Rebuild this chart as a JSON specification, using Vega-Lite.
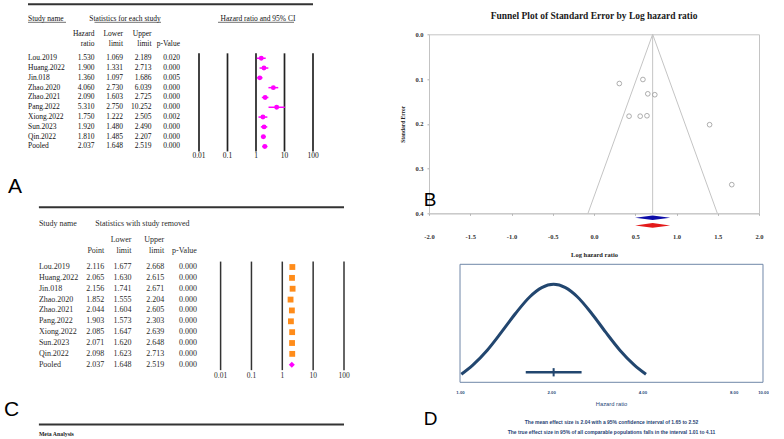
{
  "$schema": "https://vega.github.io/schema/vega-lite/v6.json",
  "padding": {"left": 4, "top": 3.3, "right": 0, "bottom": 0},
  "background": "white",
  "config": {"view": {"stroke": null}, "font": "Liberation Serif"},
  "datasets": {
    "fa": [
      {"row": "Lou.2019", "hr": 1.53, "lo": 1.069, "hi": 2.189, "p": 0.02},
      {"row": "Huang.2022", "hr": 1.9, "lo": 1.331, "hi": 2.713, "p": 0.0},
      {"row": "Jin.018", "hr": 1.36, "lo": 1.097, "hi": 1.686, "p": 0.005},
      {"row": "Zhao.2020", "hr": 4.06, "lo": 2.73, "hi": 6.039, "p": 0.0},
      {"row": "Zhao.2021", "hr": 2.09, "lo": 1.603, "hi": 2.725, "p": 0.0},
      {"row": "Pang.2022", "hr": 5.31, "lo": 2.75, "hi": 10.252, "p": 0.0},
      {"row": "Xiong.2022", "hr": 1.75, "lo": 1.222, "hi": 2.505, "p": 0.002},
      {"row": "Sun.2023", "hr": 1.92, "lo": 1.48, "hi": 2.49, "p": 0.0},
      {"row": "Qin.2022", "hr": 1.81, "lo": 1.485, "hi": 2.207, "p": 0.0},
      {"row": "Pooled", "hr": 2.037, "lo": 1.648, "hi": 2.519, "p": 0.0}
    ],
    "fc": [
      {"row": "Lou.2019", "pt": 2.116, "lo": 1.677, "hi": 2.668, "p": 0.0},
      {"row": "Huang.2022", "pt": 2.065, "lo": 1.63, "hi": 2.615, "p": 0.0},
      {"row": "Jin.018", "pt": 2.156, "lo": 1.741, "hi": 2.671, "p": 0.0},
      {"row": "Zhao.2020", "pt": 1.852, "lo": 1.555, "hi": 2.204, "p": 0.0},
      {"row": "Zhao.2021", "pt": 2.044, "lo": 1.604, "hi": 2.605, "p": 0.0},
      {"row": "Pang.2022", "pt": 1.903, "lo": 1.573, "hi": 2.303, "p": 0.0},
      {"row": "Xiong.2022", "pt": 2.085, "lo": 1.647, "hi": 2.639, "p": 0.0},
      {"row": "Sun.2023", "pt": 2.071, "lo": 1.62, "hi": 2.648, "p": 0.0},
      {"row": "Qin.2022", "pt": 2.098, "lo": 1.623, "hi": 2.713, "p": 0.0},
      {"row": "Pooled", "pt": 2.037, "lo": 1.648, "hi": 2.519, "p": 0.0}
    ],
    "ticks": [{"v": 0.01}, {"v": 0.1}, {"v": 1}, {"v": 10}, {"v": 100}],
    "funnel": [
      {"study": "Lou.2019", "lhr": 0.425, "se": 0.183},
      {"study": "Huang.2022", "lhr": 0.642, "se": 0.182},
      {"study": "Jin.018", "lhr": 0.307, "se": 0.11},
      {"study": "Zhao.2020", "lhr": 1.401, "se": 0.202},
      {"study": "Zhao.2021", "lhr": 0.737, "se": 0.135},
      {"study": "Pang.2022", "lhr": 1.67, "se": 0.336},
      {"study": "Xiong.2022", "lhr": 0.56, "se": 0.183},
      {"study": "Sun.2023", "lhr": 0.652, "se": 0.133},
      {"study": "Qin.2022", "lhr": 0.593, "se": 0.101}
    ],
    "flines": [
      {"lhr": 0.711, "se": 0, "lhr2": -0.073, "se2": 0.4},
      {"lhr": 0.711, "se": 0, "lhr2": 1.495, "se2": 0.4},
      {"lhr": 0.711, "se": 0, "lhr2": 0.711, "se2": 0.4}
    ],
    "pool": [{"lhr": 0.711}],
    "curve": [
      {"hr": 1.01, "d": 0.068}, {"hr": 1.104, "d": 0.148}, {"hr": 1.23, "d": 0.2725},
      {"hr": 1.37, "d": 0.425}, {"hr": 1.527, "d": 0.5855}, {"hr": 1.701, "d": 0.725},
      {"hr": 1.861, "d": 0.802}, {"hr": 2.036, "d": 0.83}, {"hr": 2.228, "d": 0.802},
      {"hr": 2.438, "d": 0.725}, {"hr": 2.716, "d": 0.5855}, {"hr": 3.025, "d": 0.425},
      {"hr": 3.37, "d": 0.2725}, {"hr": 3.755, "d": 0.148}, {"hr": 4.11, "d": 0.068}
    ],
    "dci": [{"est": 2.037, "lo": 1.648, "hi": 2.519}]
  },
  "spacing": 49,
  "hconcat": [
    {
      "spacing": 9,
      "vconcat": [
        {
          "width": 285,
          "height": 152,
          "encoding": {
            "y": {"field": "row", "type": "nominal", "axis": null,
              "scale": {"type": "point", "padding": 0, "domain": ["top","_y1","_y2","hdr","_y4","_y5","sub1","_y7","sub2","_y9","lineTop","Lou.2019","_y12","Huang.2022","_y14","Jin.018","_y16","Zhao.2020","_y18","Zhao.2021","_y20","Pang.2022","_y22","Xiong.2022","_y24","Sun.2023","_y26","Qin.2022","_y28","Pooled","lineBot","axis"]}}
          },
          "layer": [
            {
              "encoding": {
                "x": {"field": "col", "type": "nominal", "axis": null,
                  "scale": {"type": "point", "padding": 0, "domain": ["name","_x1","_x2","_x3","nameEnd","_x5","_x6","hr","_x8","_x9","lo","_x11","_x12","hi","statsEnd","_x15","p","_x17","_x18","_x19","ciStart","_x21","_x22","_x23","ci","_x25","_x26","_x27","ciEnd","_x29","end"]}}
              },
              "layer": [
                {"data": {"name": "fa"}, "transform": [{"fold": ["hr", "lo", "hi", "p"], "as": ["col", "val"]}],
                  "mark": {"type": "text", "align": "right", "baseline": "middle", "fontSize": 7.5, "color": "#111"},
                  "encoding": {"text": {"field": "val", "type": "quantitative", "format": ".3f"}}},
                {"data": {"name": "fa"},
                  "mark": {"type": "text", "align": "left", "baseline": "middle", "fontSize": 7.5, "color": "#111"},
                  "encoding": {"x": {"datum": "name", "type": "nominal", "axis": null}, "text": {"field": "row"}}},
                {"data": {"values": [{"row": "hdr", "col": "name", "t": "Study name"}]},
                  "mark": {"type": "text", "align": "left", "baseline": "middle", "fontSize": 7.5, "color": "#111"},
                  "encoding": {"text": {"field": "t"}}},
                {"data": {"values": [{"row": "hdr", "col": "lo", "t": "Statistics for each study"}, {"row": "hdr", "col": "ci", "t": "Hazard ratio and 95% CI"}]},
                  "mark": {"type": "text", "align": "center", "baseline": "middle", "fontSize": 7.5, "color": "#111", "dx": 2},
                  "encoding": {"text": {"field": "t"}}},
                {"data": {"values": [
                    {"row": "sub1", "col": "hr", "t": "Hazard"}, {"row": "sub2", "col": "hr", "t": "ratio"},
                    {"row": "sub1", "col": "lo", "t": "Lower"}, {"row": "sub2", "col": "lo", "t": "limit"},
                    {"row": "sub1", "col": "hi", "t": "Upper"}, {"row": "sub2", "col": "hi", "t": "limit"},
                    {"row": "sub2", "col": "p", "t": "p-Value"}]},
                  "mark": {"type": "text", "align": "right", "baseline": "middle", "fontSize": 7.5, "color": "#111"},
                  "encoding": {"text": {"field": "t"}}},
                {"data": {"values": [{"row": "hdr", "col": "name", "col2": "nameEnd"}, {"row": "hdr", "col": "hr", "col2": "statsEnd"}, {"row": "hdr", "col": "ciStart", "col2": "ciEnd"}]},
                  "mark": {"type": "rule", "color": "#333", "strokeWidth": 0.7, "yOffset": 3.3},
                  "encoding": {"x2": {"field": "col2"}}},
                {"data": {"values": [{"row": "top", "col": "name", "col2": "end"}]},
                  "mark": {"type": "rule", "color": "#333", "strokeWidth": 2},
                  "encoding": {"x2": {"field": "col2"}}},
                {"data": {"values": [{"t": "A"}]},
                  "mark": {"type": "text", "align": "left", "baseline": "middle", "font": "Liberation Sans", "fontSize": 21, "color": "#000", "dx": -20, "dy": 31},
                  "encoding": {"x": {"datum": "name", "type": "nominal", "axis": null}, "y": {"datum": "axis", "type": "nominal", "axis": null}, "text": {"field": "t"}}}
              ]
            },
            {
              "encoding": {
                "x": {"field": "v", "type": "quantitative", "axis": null, "scale": {"type": "log", "domain": [1e-8, 100], "nice": false}}
              },
              "layer": [
                {"data": {"name": "ticks"}, "mark": {"type": "rule", "color": "#222", "strokeWidth": 1.7},
                  "encoding": {"y": {"datum": "lineTop", "type": "nominal", "axis": null}, "y2": {"datum": "lineBot"}}},
                {"data": {"name": "ticks"}, "mark": {"type": "text", "baseline": "middle", "fontSize": 7.5, "color": "#111"},
                  "encoding": {"y": {"datum": "axis", "type": "nominal", "axis": null}, "text": {"field": "v", "type": "quantitative", "format": "~g"}}},
                {"data": {"name": "fa"}, "mark": {"type": "rule", "color": "#ff00ff", "strokeWidth": 1.5},
                  "encoding": {"x": {"field": "lo", "type": "quantitative", "axis": null, "scale": {"type": "log", "domain": [1e-8, 100], "nice": false}}, "x2": {"field": "hi"}}},
                {"data": {"name": "fa"}, "mark": {"type": "point", "shape": "circle", "filled": true, "size": 24, "color": "#ff00ff", "opacity": 1},
                  "encoding": {"x": {"field": "hr", "type": "quantitative", "axis": null, "scale": {"type": "log", "domain": [1e-8, 100], "nice": false}}}}
              ]
            }
          ],
          "resolve": {"scale": {"x": "independent"}}
        },
        {
          "width": 316,
          "height": 228,
          "encoding": {
            "y": {"field": "row", "type": "nominal", "axis": null,
              "scale": {"type": "point", "padding": 0, "domain": ["top","_y1","_y2","hdr","_y4","_y5","sub1","_y7","sub2","_y9","lineTop","Lou.2019","_y12","Huang.2022","_y14","Jin.018","_y16","Zhao.2020","_y18","Zhao.2021","_y20","Pang.2022","_y22","Xiong.2022","_y24","Sun.2023","_y26","Qin.2022","_y28","Pooled","lineBot","axis","_y32","_y33","_y34","_y35","_y36","letter","_y38","_y39","botRule","_y41","meta"]}}
          },
          "layer": [
            {
              "encoding": {
                "x": {"field": "col", "type": "nominal", "axis": null,
                  "scale": {"type": "point", "padding": 0, "domain": ["origin","_k1","name","_k3","_k4","_k5","_k6","_k7","_k8","_k9","_k10","_k11","_k12","_k13","pt","_k15","_k16","_k17","_k18","lo","_k20","stats","_k22","_k23","_k24","hi","_k26","_k27","_k28","_k29","_k30","p","_k32","_k33","_k34","_k35","_k36","_k37","_k38","_k39","_k40","_k41","_k42","_k43","_k44","_k45","_k46","_k47","_k48","_k49","_k50","_k51","_k52","_k53","_k54","_k55","_k56","_k57","end"]}}
              },
              "layer": [
                {"data": {"name": "fc"}, "transform": [{"fold": ["pt", "lo", "hi", "p"], "as": ["col", "val"]}],
                  "mark": {"type": "text", "align": "right", "baseline": "middle", "fontSize": 8, "color": "#2a2a2a"},
                  "encoding": {"text": {"field": "val", "type": "quantitative", "format": ".3f"}}},
                {"data": {"name": "fc"},
                  "mark": {"type": "text", "align": "left", "baseline": "middle", "fontSize": 8, "color": "#2a2a2a"},
                  "encoding": {"x": {"datum": "name", "type": "nominal", "axis": null}, "text": {"field": "row"}}},
                {"data": {"values": [{"row": "hdr", "col": "name", "t": "Study name"}]},
                  "mark": {"type": "text", "align": "left", "baseline": "middle", "fontSize": 8, "color": "#2a2a2a"},
                  "encoding": {"text": {"field": "t"}}},
                {"data": {"values": [{"row": "hdr", "col": "stats", "t": "Statistics with study removed"}]},
                  "mark": {"type": "text", "align": "center", "baseline": "middle", "fontSize": 8, "color": "#2a2a2a"},
                  "encoding": {"text": {"field": "t"}}},
                {"data": {"values": [
                    {"row": "sub2", "col": "pt", "t": "Point"},
                    {"row": "sub1", "col": "lo", "t": "Lower"}, {"row": "sub2", "col": "lo", "t": "limit"},
                    {"row": "sub1", "col": "hi", "t": "Upper"}, {"row": "sub2", "col": "hi", "t": "limit"},
                    {"row": "sub2", "col": "p", "t": "p-Value"}]},
                  "mark": {"type": "text", "align": "right", "baseline": "middle", "fontSize": 8, "color": "#2a2a2a"},
                  "encoding": {"text": {"field": "t"}}},
                {"data": {"values": [{"row": "top", "col": "name", "col2": "end"}, {"row": "botRule", "col": "name", "col2": "end"}]},
                  "mark": {"type": "rule", "color": "#333", "strokeWidth": 2},
                  "encoding": {"x2": {"field": "col2"}}},
                {"data": {"values": [{"row": "meta", "col": "name", "t": "Meta Analysis"}]},
                  "mark": {"type": "text", "align": "left", "baseline": "middle", "fontSize": 5.8, "fontWeight": "bold", "color": "#222", "dy": -1.6},
                  "encoding": {"text": {"field": "t"}}},
                {"data": {"values": [{"t": "C"}]},
                  "mark": {"type": "text", "align": "left", "baseline": "middle", "font": "Liberation Sans", "fontSize": 21, "color": "#000", "dx": -24, "dy": 1.5},
                  "encoding": {"x": {"datum": "origin", "type": "nominal", "axis": null}, "y": {"datum": "letter", "type": "nominal", "axis": null}, "text": {"field": "t"}}}
              ]
            },
            {
              "encoding": {
                "x": {"field": "v", "type": "quantitative", "axis": null, "scale": {"type": "log", "domain": [5.71e-9, 100], "nice": false}}
              },
              "layer": [
                {"data": {"name": "ticks"}, "mark": {"type": "rule", "color": "#333", "strokeWidth": 1.5},
                  "encoding": {"y": {"datum": "lineTop", "type": "nominal", "axis": null}, "y2": {"datum": "lineBot"}}},
                {"data": {"name": "ticks"}, "mark": {"type": "text", "baseline": "middle", "fontSize": 7.5, "color": "#2a2a2a"},
                  "encoding": {"y": {"datum": "axis", "type": "nominal", "axis": null}, "text": {"field": "v", "type": "quantitative", "format": "~g"}}},
                {"data": {"name": "fc"}, "transform": [{"filter": "datum.row != 'Pooled'"}],
                  "mark": {"type": "point", "shape": "square", "filled": true, "size": 34, "color": "#ff8c1a", "opacity": 1},
                  "encoding": {"x": {"field": "pt", "type": "quantitative", "axis": null, "scale": {"type": "log", "domain": [5.71e-9, 100], "nice": false}}}},
                {"data": {"name": "fc"}, "transform": [{"filter": "datum.row == 'Pooled'"}],
                  "mark": {"type": "point", "shape": "diamond", "filled": true, "size": 36, "color": "#ff00ff", "opacity": 1},
                  "encoding": {"x": {"field": "pt", "type": "quantitative", "axis": null, "scale": {"type": "log", "domain": [5.71e-9, 100], "nice": false}}}}
              ]
            }
          ],
          "resolve": {"scale": {"x": "independent"}}
        }
      ]
    },
    {
      "spacing": 5,
      "vconcat": [
        {"width": 330, "height": 1, "data": {"values": []}, "mark": "point"},
        {
          "width": 330,
          "height": 179,
          "view": {"stroke": "#c4c4c4", "strokeWidth": 1},
          "layer": [
            {"data": {"name": "flines"}, "mark": {"type": "rule", "color": "#c4c4c4", "strokeWidth": 1},
              "encoding": {
                "x": {"field": "lhr", "type": "quantitative", "scale": {"domain": [-2, 2], "nice": false, "zero": false},
                  "axis": {"values": [-2, -1.5, -1, -0.5, 0, 0.5, 1, 1.5, 2], "labelExpr": "replace(format(datum.value, '.1f'), '\u2212', '-')", "title": "Log hazard ratio", "grid": false, "labelFlush": false, "domainColor": "#c4c4c4", "tickColor": "#b0b0b0", "tickSize": 2, "labelFontWeight": "bold", "labelFontSize": 6.5, "labelColor": "#333", "labelPadding": 18, "titleFontWeight": "bold", "titleFontSize": 6.5, "titleColor": "#222", "titlePadding": 11.5}},
                "y": {"field": "se", "type": "quantitative", "scale": {"domain": [0, 0.4], "nice": false, "zero": false, "reverse": true},
                  "axis": {"values": [0, 0.1, 0.2, 0.3, 0.4], "format": ".1f", "title": "Standard Error", "grid": false, "domainColor": "#c4c4c4", "tickColor": "#b0b0b0", "tickSize": 2, "labelFontWeight": "bold", "labelFontSize": 6.5, "labelColor": "#333", "labelPadding": 4, "titleFontWeight": "bold", "titleFontSize": 5.5, "titleColor": "#222", "titlePadding": 9.5}},
                "x2": {"field": "lhr2"},
                "y2": {"field": "se2"}
              }},
            {"data": {"name": "funnel"}, "mark": {"type": "point", "shape": "circle", "filled": false, "size": 22, "color": "#999", "strokeWidth": 0.8, "opacity": 1},
              "encoding": {
                "x": {"field": "lhr", "type": "quantitative", "scale": {"domain": [-2, 2], "nice": false, "zero": false},
                  "axis": {"values": [-2, -1.5, -1, -0.5, 0, 0.5, 1, 1.5, 2], "labelExpr": "replace(format(datum.value, '.1f'), '\u2212', '-')", "title": "Log hazard ratio", "grid": false, "labelFlush": false, "domainColor": "#c4c4c4", "tickColor": "#b0b0b0", "tickSize": 2, "labelFontWeight": "bold", "labelFontSize": 6.5, "labelColor": "#333", "labelPadding": 18, "titleFontWeight": "bold", "titleFontSize": 6.5, "titleColor": "#222", "titlePadding": 11.5}},
                "y": {"field": "se", "type": "quantitative", "scale": {"domain": [0, 0.4], "nice": false, "zero": false, "reverse": true},
                  "axis": {"values": [0, 0.1, 0.2, 0.3, 0.4], "format": ".1f", "title": "Standard Error", "grid": false, "domainColor": "#c4c4c4", "tickColor": "#b0b0b0", "tickSize": 2, "labelFontWeight": "bold", "labelFontSize": 6.5, "labelColor": "#333", "labelPadding": 4, "titleFontWeight": "bold", "titleFontSize": 5.5, "titleColor": "#222", "titlePadding": 9.5}}
              }},
            {"data": {"name": "pool"}, "mark": {"type": "point", "shape": "M-1,0L0,-0.13L1,0L0,0.13Z", "filled": true, "size": 1225, "color": "#0c0ca8", "opacity": 1},
              "encoding": {
                "x": {"field": "lhr", "type": "quantitative", "scale": {"domain": [-2, 2], "nice": false, "zero": false},
                  "axis": {"values": [-2, -1.5, -1, -0.5, 0, 0.5, 1, 1.5, 2], "labelExpr": "replace(format(datum.value, '.1f'), '\u2212', '-')", "title": "Log hazard ratio", "grid": false, "labelFlush": false, "domainColor": "#c4c4c4", "tickColor": "#b0b0b0", "tickSize": 2, "labelFontWeight": "bold", "labelFontSize": 6.5, "labelColor": "#333", "labelPadding": 18, "titleFontWeight": "bold", "titleFontSize": 6.5, "titleColor": "#222", "titlePadding": 11.5}},
                "y": {"datum": 0.41, "type": "quantitative", "scale": {"domain": [0, 0.4], "nice": false, "zero": false, "reverse": true},
                  "axis": {"values": [0, 0.1, 0.2, 0.3, 0.4], "format": ".1f", "title": "Standard Error", "grid": false, "domainColor": "#c4c4c4", "tickColor": "#b0b0b0", "tickSize": 2, "labelFontWeight": "bold", "labelFontSize": 6.5, "labelColor": "#333", "labelPadding": 4, "titleFontWeight": "bold", "titleFontSize": 5.5, "titleColor": "#222", "titlePadding": 9.5}}
              }},
            {"data": {"name": "pool"}, "mark": {"type": "point", "shape": "M-1,0L0,-0.13L1,0L0,0.13Z", "filled": true, "size": 1225, "color": "#e31a1a", "opacity": 1},
              "encoding": {
                "x": {"field": "lhr", "type": "quantitative", "scale": {"domain": [-2, 2], "nice": false, "zero": false},
                  "axis": {"values": [-2, -1.5, -1, -0.5, 0, 0.5, 1, 1.5, 2], "labelExpr": "replace(format(datum.value, '.1f'), '\u2212', '-')", "title": "Log hazard ratio", "grid": false, "labelFlush": false, "domainColor": "#c4c4c4", "tickColor": "#b0b0b0", "tickSize": 2, "labelFontWeight": "bold", "labelFontSize": 6.5, "labelColor": "#333", "labelPadding": 18, "titleFontWeight": "bold", "titleFontSize": 6.5, "titleColor": "#222", "titlePadding": 11.5}},
                "y": {"datum": 0.427, "type": "quantitative", "scale": {"domain": [0, 0.4], "nice": false, "zero": false, "reverse": true},
                  "axis": {"values": [0, 0.1, 0.2, 0.3, 0.4], "format": ".1f", "title": "Standard Error", "grid": false, "domainColor": "#c4c4c4", "tickColor": "#b0b0b0", "tickSize": 2, "labelFontWeight": "bold", "labelFontSize": 6.5, "labelColor": "#333", "labelPadding": 4, "titleFontWeight": "bold", "titleFontSize": 5.5, "titleColor": "#222", "titlePadding": 9.5}}
              }},
            {"data": {"values": [{"t": "Funnel Plot of Standard Error by Log hazard ratio"}]},
              "mark": {"type": "text", "align": "center", "baseline": "middle", "fontSize": 9.5, "fontWeight": "bold", "color": "#1a1a1a", "dy": -18.3},
              "encoding": {
                "x": {"datum": 0, "type": "quantitative", "scale": {"domain": [-2, 2], "nice": false, "zero": false},
                  "axis": {"values": [-2, -1.5, -1, -0.5, 0, 0.5, 1, 1.5, 2], "labelExpr": "replace(format(datum.value, '.1f'), '\u2212', '-')", "title": "Log hazard ratio", "grid": false, "labelFlush": false, "domainColor": "#c4c4c4", "tickColor": "#b0b0b0", "tickSize": 2, "labelFontWeight": "bold", "labelFontSize": 6.5, "labelColor": "#333", "labelPadding": 18, "titleFontWeight": "bold", "titleFontSize": 6.5, "titleColor": "#222", "titlePadding": 11.5}},
                "y": {"datum": 0, "type": "quantitative", "scale": {"domain": [0, 0.4], "nice": false, "zero": false, "reverse": true},
                  "axis": {"values": [0, 0.1, 0.2, 0.3, 0.4], "format": ".1f", "title": "Standard Error", "grid": false, "domainColor": "#c4c4c4", "tickColor": "#b0b0b0", "tickSize": 2, "labelFontWeight": "bold", "labelFontSize": 6.5, "labelColor": "#333", "labelPadding": 4, "titleFontWeight": "bold", "titleFontSize": 5.5, "titleColor": "#222", "titlePadding": 9.5}},
                "text": {"field": "t"}
              }},
            {"data": {"values": [{"t": "B"}]},
              "mark": {"type": "text", "align": "left", "baseline": "middle", "font": "Liberation Sans", "fontSize": 19, "color": "#000", "dx": -5.3, "dy": -13},
              "encoding": {
                "x": {"datum": -2, "type": "quantitative", "scale": {"domain": [-2, 2], "nice": false, "zero": false},
                  "axis": {"values": [-2, -1.5, -1, -0.5, 0, 0.5, 1, 1.5, 2], "labelExpr": "replace(format(datum.value, '.1f'), '\u2212', '-')", "title": "Log hazard ratio", "grid": false, "labelFlush": false, "domainColor": "#c4c4c4", "tickColor": "#b0b0b0", "tickSize": 2, "labelFontWeight": "bold", "labelFontSize": 6.5, "labelColor": "#333", "labelPadding": 18, "titleFontWeight": "bold", "titleFontSize": 6.5, "titleColor": "#222", "titlePadding": 11.5}},
                "y": {"datum": 0.4, "type": "quantitative", "scale": {"domain": [0, 0.4], "nice": false, "zero": false, "reverse": true},
                  "axis": {"values": [0, 0.1, 0.2, 0.3, 0.4], "format": ".1f", "title": "Standard Error", "grid": false, "domainColor": "#c4c4c4", "tickColor": "#b0b0b0", "tickSize": 2, "labelFontWeight": "bold", "labelFontSize": 6.5, "labelColor": "#333", "labelPadding": 4, "titleFontWeight": "bold", "titleFontSize": 5.5, "titleColor": "#222", "titlePadding": 9.5}},
                "text": {"field": "t"}
              }}
          ]
        },
        {
          "width": 334,
          "height": 118,
          "layer": [
            {"data": {"values": [{"box": "frame"}]}, "mark": {"type": "rect", "filled": false, "color": "#6f87a8", "strokeWidth": 1},
              "encoding": {
                "x": {"datum": 1, "type": "quantitative", "scale": {"type": "log", "domain": [0.79, 10], "nice": false},
                  "axis": {"values": [1, 2, 4, 8, 10], "format": ".2f", "title": null, "grid": false, "domain": false, "ticks": false, "tickSize": 0, "labelFlush": false, "labelFont": "Liberation Sans", "labelFontSize": 4.3, "labelFontWeight": "bold", "labelColor": "#2a4a7a", "labelPadding": 8}},
                "x2": {"datum": 10},
                "y": {"datum": 0, "type": "quantitative", "scale": {"domain": [0, 1], "nice": false, "zero": false}, "axis": null},
                "y2": {"datum": 1}
              }},
            {"data": {"name": "curve"}, "mark": {"type": "line", "interpolate": "monotone", "color": "#22466f", "strokeWidth": 3},
              "encoding": {
                "x": {"field": "hr", "type": "quantitative", "scale": {"type": "log", "domain": [0.79, 10], "nice": false},
                  "axis": {"values": [1, 2, 4, 8, 10], "format": ".2f", "title": null, "grid": false, "domain": false, "ticks": false, "tickSize": 0, "labelFlush": false, "labelFont": "Liberation Sans", "labelFontSize": 4.3, "labelFontWeight": "bold", "labelColor": "#2a4a7a", "labelPadding": 8}},
                "y": {"field": "d", "type": "quantitative", "scale": {"domain": [0, 1], "nice": false, "zero": false}, "axis": null}
              }},
            {"data": {"name": "dci"}, "mark": {"type": "rule", "color": "#22466f", "strokeWidth": 2.5},
              "encoding": {
                "x": {"field": "lo", "type": "quantitative", "scale": {"type": "log", "domain": [0.79, 10], "nice": false},
                  "axis": {"values": [1, 2, 4, 8, 10], "format": ".2f", "title": null, "grid": false, "domain": false, "ticks": false, "tickSize": 0, "labelFlush": false, "labelFont": "Liberation Sans", "labelFontSize": 4.3, "labelFontWeight": "bold", "labelColor": "#2a4a7a", "labelPadding": 8}},
                "x2": {"field": "hi"},
                "y": {"datum": 0.085, "type": "quantitative", "scale": {"domain": [0, 1], "nice": false, "zero": false}, "axis": null}
              }},
            {"data": {"name": "dci"}, "mark": {"type": "rule", "color": "#22466f", "strokeWidth": 2},
              "encoding": {
                "x": {"field": "est", "type": "quantitative", "scale": {"type": "log", "domain": [0.79, 10], "nice": false},
                  "axis": {"values": [1, 2, 4, 8, 10], "format": ".2f", "title": null, "grid": false, "domain": false, "ticks": false, "tickSize": 0, "labelFlush": false, "labelFont": "Liberation Sans", "labelFontSize": 4.3, "labelFontWeight": "bold", "labelColor": "#2a4a7a", "labelPadding": 8}},
                "y": {"datum": 0.05, "type": "quantitative", "scale": {"domain": [0, 1], "nice": false, "zero": false}, "axis": null},
                "y2": {"datum": 0.12}
              }},
            {"data": {"values": [{"t": "Hazard ratio"}]},
              "mark": {"type": "text", "align": "center", "baseline": "middle", "font": "Liberation Sans", "fontSize": 5.8, "color": "#2a4a7a", "dy": 21.7},
              "encoding": {
                "x": {"datum": 3.1623, "type": "quantitative", "scale": {"type": "log", "domain": [0.79, 10], "nice": false},
                  "axis": {"values": [1, 2, 4, 8, 10], "format": ".2f", "title": null, "grid": false, "domain": false, "ticks": false, "tickSize": 0, "labelFlush": false, "labelFont": "Liberation Sans", "labelFontSize": 4.3, "labelFontWeight": "bold", "labelColor": "#2a4a7a", "labelPadding": 8}},
                "y": {"datum": 0, "type": "quantitative", "scale": {"domain": [0, 1], "nice": false, "zero": false}, "axis": null},
                "text": {"field": "t"}
              }},
            {"data": {"values": [{"t": "The mean effect size is 2.04 with a 95% confidence interval of 1.65 to 2.52\nThe true effect size in 95% of all comparable populations falls in the interval 1.01 to 4.11"}]},
              "mark": {"type": "text", "align": "center", "baseline": "top", "font": "Liberation Sans", "fontSize": 5, "fontWeight": "bold", "color": "#1f3f73", "lineBreak": "\n", "lineHeight": 10, "dy": 37.5},
              "encoding": {
                "x": {"datum": 3.1623, "type": "quantitative", "scale": {"type": "log", "domain": [0.79, 10], "nice": false},
                  "axis": {"values": [1, 2, 4, 8, 10], "format": ".2f", "title": null, "grid": false, "domain": false, "ticks": false, "tickSize": 0, "labelFlush": false, "labelFont": "Liberation Sans", "labelFontSize": 4.3, "labelFontWeight": "bold", "labelColor": "#2a4a7a", "labelPadding": 8}},
                "y": {"datum": 0, "type": "quantitative", "scale": {"domain": [0, 1], "nice": false, "zero": false}, "axis": null},
                "text": {"field": "t"}
              }},
            {"data": {"values": [{"t": "D"}]},
              "mark": {"type": "text", "align": "left", "baseline": "middle", "font": "Liberation Sans", "fontSize": 19, "color": "#000", "dx": -5.3, "dy": 36.7},
              "encoding": {
                "x": {"datum": 0.79, "type": "quantitative", "scale": {"type": "log", "domain": [0.79, 10], "nice": false},
                  "axis": {"values": [1, 2, 4, 8, 10], "format": ".2f", "title": null, "grid": false, "domain": false, "ticks": false, "tickSize": 0, "labelFlush": false, "labelFont": "Liberation Sans", "labelFontSize": 4.3, "labelFontWeight": "bold", "labelColor": "#2a4a7a", "labelPadding": 8}},
                "y": {"datum": 0, "type": "quantitative", "scale": {"domain": [0, 1], "nice": false, "zero": false}, "axis": null},
                "text": {"field": "t"}
              }}
          ]
        }
      ]
    }
  ]
}
